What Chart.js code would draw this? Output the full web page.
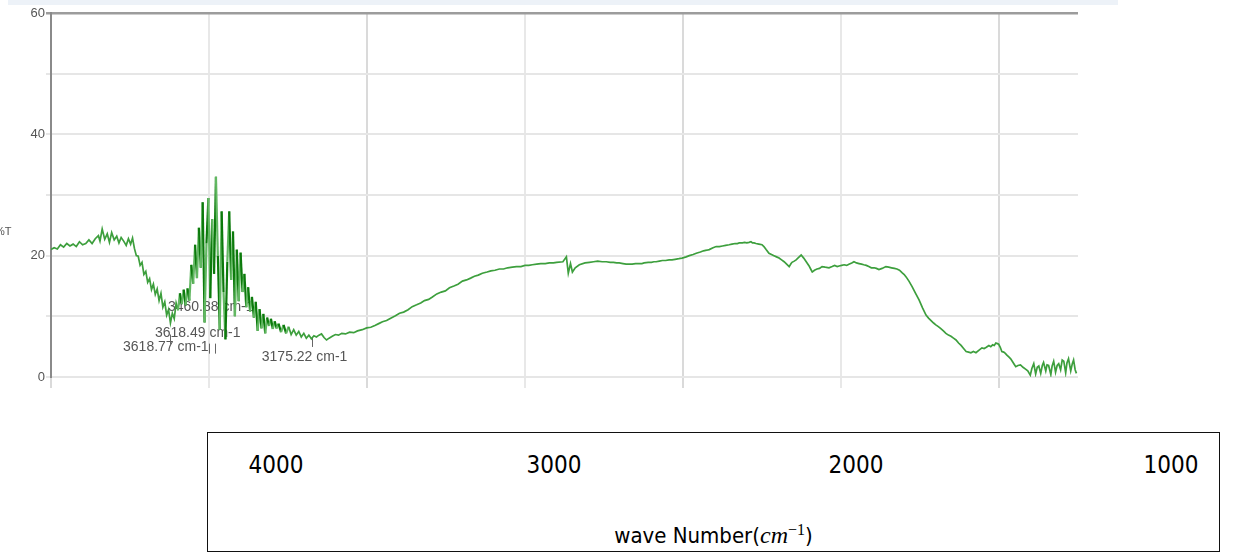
<!DOCTYPE html>
<html>
<head>
<meta charset="utf-8">
<script src="https://cdn.jsdelivr.net/npm/chart.js@4/dist/chart.umd.min.js"></script>
<style>
  html, body { margin: 0; padding: 0; background: #fff; }
  #wrap { position: relative; width: 1249px; height: 553px; overflow: hidden; }
  #topband { position: absolute; left: 8px; top: 0; width: 1110px; height: 5px; background: #edf2f8; }
  #spec { position: absolute; left: 0; top: 0; }
  #ylab { position: absolute; left: -5px; top: 225px; font: 11px 'Liberation Sans', Arial, sans-serif; color: #555; }
  #xbox { position: absolute; left: 207px; top: 432px; width: 1011px; height: 118px; border: 1.5px solid #111; }
  .xt { position: absolute; top: 18px; transform: translateX(-50%); font-family: 'Liberation Sans Narrow', 'DejaVu Sans Condensed', sans-serif; font-size: 24px; color: #000; }
  #xtitle { position: absolute; left: 0; right: 0; top: 88px; text-align: center; font-family: 'Liberation Sans Narrow', 'DejaVu Sans Condensed', sans-serif; font-size: 22px; color: #000; }
  #xtitle i { font-family: 'Liberation Serif', 'DejaVu Serif', serif; font-size: 24px; }
  #xtitle sup { font-size: 16px; font-family: 'Liberation Serif', serif; }
</style>
</head>
<body>
<div id="wrap">
  <div id="topband"></div>
  <canvas id="spec" width="1249" height="400"></canvas>
  <div id="ylab">%T</div>
  <div id="xbox"></div>
</div>
<script>
'use strict';

// IR spectrum, [wavenumber cm-1, %T]
const ohShoulder = [
  [4000, 21.0], [3990, 21.3], [3980, 21.1], [3970, 21.8], [3960, 21.4], [3950, 22.0], [3940, 21.6],
  [3930, 21.9], [3920, 21.5], [3910, 22.3], [3900, 21.8], [3890, 22.0], [3880, 22.6], [3870, 22.0],
  [3860, 22.8], [3850, 23.3], [3845, 22.4], [3838, 24.4], [3830, 22.7], [3822, 23.6], [3815, 22.2],
  [3808, 23.8], [3800, 22.6], [3792, 23.2], [3785, 22.1], [3778, 23.0], [3770, 22.4], [3762, 21.7],
  [3755, 22.8], [3748, 21.9], [3742, 22.9], [3736, 21.2], [3730, 20.0], [3724, 19.9], [3718, 18.4],
  [3712, 18.9], [3706, 16.9], [3700, 17.4], [3694, 15.6], [3688, 16.2], [3682, 14.4], [3676, 15.3],
  [3670, 13.6], [3664, 14.5], [3658, 12.6], [3652, 13.8], [3646, 11.5], [3640, 12.4], [3634, 10.2],
  [3628, 11.1], [3622, 8.9], [3616, 10.5], [3610, 9.6], [3604, 12.2], [3598, 11.0]
];

const ohBand = [
  [3592, 13.8], [3586, 12.0], [3580, 14.4], [3574, 11.8], [3568, 14.6], [3562, 12.6], [3556, 18.5],
  [3550, 15.4], [3544, 21.8], [3538, 16.3], [3532, 24.6], [3526, 18.0], [3520, 28.8], [3514, 9.0],
  [3508, 22.0], [3502, 29.5], [3496, 13.0], [3490, 26.0], [3484, 17.0], [3478, 33.0], [3472, 20.0],
  [3466, 7.8], [3460, 27.3], [3454, 14.0], [3448, 6.2], [3442, 19.0], [3436, 27.3], [3430, 16.0],
  [3424, 24.0], [3418, 10.0], [3412, 21.0], [3406, 12.5], [3400, 20.5], [3394, 14.0], [3388, 17.0],
  [3382, 11.5], [3376, 14.8], [3370, 10.8], [3364, 13.2], [3358, 9.8], [3352, 12.4], [3346, 7.6],
  [3340, 11.2], [3334, 8.0], [3328, 10.4], [3322, 7.2], [3316, 9.8], [3310, 8.4], [3304, 9.6],
  [3298, 7.9], [3292, 9.2], [3286, 8.0], [3280, 8.8]
];

const chRegion = [
  [3272, 7.4], [3264, 8.6], [3256, 7.2], [3248, 8.3], [3240, 7.0], [3232, 7.8], [3224, 6.9],
  [3216, 7.5], [3208, 6.6], [3200, 7.2], [3192, 6.4], [3184, 6.9], [3176, 6.3], [3168, 6.8],
  [3160, 6.6], [3152, 6.9], [3144, 7.1], [3136, 6.5], [3128, 6.1], [3120, 6.4], [3110, 6.7],
  [3100, 7.0], [3090, 6.9], [3080, 7.2], [3068, 7.1], [3055, 7.4], [3042, 7.3], [3030, 7.6],
  [3015, 7.8], [3001, 8.1], [2988, 8.2], [2975, 8.5], [2963, 8.8], [2951, 9.1], [2938, 9.3],
  [2925, 9.7], [2910, 10.1], [2897, 10.5], [2884, 10.7], [2870, 11.1], [2857, 11.6], [2843, 11.9],
  [2830, 12.2], [2818, 12.6], [2805, 12.8], [2793, 13.2], [2779, 13.7], [2765, 14.0], [2752, 14.2],
  [2739, 14.7], [2725, 15.0], [2712, 15.3], [2698, 15.8], [2685, 16.0], [2672, 16.3], [2660, 16.6],
  [2648, 16.8], [2635, 17.1], [2620, 17.3], [2608, 17.5], [2595, 17.6], [2581, 17.8], [2568, 17.8],
  [2555, 18.0], [2540, 18.1], [2527, 18.2], [2513, 18.2], [2500, 18.4], [2488, 18.4], [2477, 18.5],
  [2463, 18.6], [2450, 18.7], [2436, 18.7], [2423, 18.8], [2410, 18.8], [2400, 18.9]
];

const midRegion = [
  [2380, 19.0], [2369, 19.8], [2363, 17.1], [2356, 18.7], [2350, 17.3], [2341, 18.0], [2328, 18.5],
  [2310, 18.8], [2296, 18.9], [2283, 19.0], [2270, 19.1], [2256, 19.0], [2243, 19.0], [2230, 18.9],
  [2220, 18.9], [2210, 18.8], [2202, 18.8], [2190, 18.7], [2180, 18.6], [2170, 18.6], [2161, 18.6],
  [2150, 18.7], [2140, 18.7], [2130, 18.7], [2123, 18.8], [2110, 18.9], [2100, 18.9], [2092, 19.0],
  [2085, 19.0], [2075, 19.1], [2065, 19.2], [2055, 19.2], [2044, 19.3], [2035, 19.3], [2025, 19.4],
  [2013, 19.5], [2003, 19.6], [1990, 19.8], [1980, 20.0], [1968, 20.2], [1958, 20.4], [1945, 20.6],
  [1935, 20.8], [1925, 20.9], [1917, 21.0], [1905, 21.3], [1895, 21.5], [1885, 21.5], [1875, 21.6],
  [1865, 21.7], [1854, 21.8], [1845, 21.9], [1835, 22.0], [1828, 22.0], [1822, 22.1], [1812, 22.1],
  [1805, 22.2], [1798, 22.1], [1791, 22.2], [1785, 22.3], [1780, 22.1], [1775, 22.1], [1769, 22.0],
  [1760, 21.9], [1750, 21.8], [1744, 21.5], [1737, 21.0], [1728, 20.4], [1720, 20.2], [1712, 20.0],
  [1704, 19.8], [1696, 19.6], [1688, 19.3], [1680, 19.0], [1672, 18.6], [1664, 18.2], [1658, 18.7],
  [1655, 18.9], [1648, 19.1], [1642, 19.3], [1634, 19.7], [1626, 20.1], [1618, 19.6], [1610, 19.0],
  [1601, 18.3], [1596, 17.8], [1591, 17.3], [1584, 17.6], [1576, 17.8], [1568, 17.9], [1560, 18.2],
  [1550, 18.1], [1538, 18.0], [1528, 18.2], [1520, 18.4], [1512, 18.2], [1506, 18.3]
];

const fingerprint = [
  [1498, 18.4], [1490, 18.5], [1482, 18.4], [1475, 18.6], [1466, 18.8], [1459, 19.0], [1451, 18.8],
  [1443, 18.7], [1435, 18.6], [1428, 18.5], [1420, 18.4], [1412, 18.2], [1404, 18.0], [1395, 18.0],
  [1388, 17.9], [1380, 17.7], [1370, 17.9], [1358, 18.2], [1349, 18.1], [1340, 18.0], [1331, 17.9],
  [1323, 17.8], [1315, 17.6], [1307, 17.2], [1300, 16.9], [1294, 16.5], [1285, 15.8], [1275, 14.9],
  [1264, 13.8], [1253, 12.7], [1242, 11.4], [1231, 10.2], [1223, 9.7], [1215, 9.3], [1207, 8.9],
  [1200, 8.6], [1192, 8.3], [1185, 8.0], [1176, 7.6], [1168, 7.2], [1160, 6.9], [1152, 6.7],
  [1144, 6.4], [1136, 6.1], [1128, 5.6], [1120, 5.2], [1112, 4.7], [1104, 4.2], [1096, 4.1],
  [1089, 4.0], [1081, 4.2], [1073, 4.0], [1064, 4.4], [1054, 4.8], [1047, 4.7], [1040, 4.9],
  [1032, 5.2], [1026, 5.0], [1020, 5.3], [1015, 5.2], [1010, 5.6], [1005, 5.5], [1001, 5.4],
  [996, 4.9], [991, 4.2], [985, 4.1], [980, 3.9], [975, 3.6], [969, 3.3], [963, 3.0], [958, 2.6],
  [952, 2.1], [947, 1.7], [940, 1.9], [932, 2.0], [924, 1.6], [916, 1.3], [909, 1.0], [901, 0.3],
  [896, 1.4], [890, 2.2], [884, 0.5], [879, 1.6], [874, 1.8], [868, 0.6], [863, 1.9], [859, 2.4],
  [852, 1.0], [848, 2.0], [843, 1.9], [836, 0.4], [832, 1.8], [827, 2.6], [821, 0.8], [816, 1.9],
  [811, 2.2], [805, 1.2], [800, 2.8], [795, 2.6], [789, 0.7], [785, 2.3], [780, 3.0], [773, 1.0],
  [768, 2.2], [764, 2.8], [759, 1.2], [755, 0.6]
];

const xGridValues = [4000, 3500, 3000, 2500, 2000, 1500, 1000];
const yTickLabels = [0, 20, 40, 60];
const boxTickLabels = ['4000', '3000', '2000', '1000'];
// peak picks: text, anchored at [wavenumber, %T] of the text's left middle
const peakLabels = [
  { text: '3460.88 cm-1', wn: 3630, t: 11.5 },
  { text: '3618.49 cm-1', wn: 3671, t: 7.2 },
  { text: '3618.77 cm-1', wn: 3772, t: 4.9 },
  { text: '3175.22 cm-1', wn: 3333, t: 3.3 }
];
const peakMarks = [
  { wn: 3624, t: 7.0 }, { wn: 3500, t: 5.5 }, { wn: 3480, t: 5.5 }, { wn: 3175, t: 6.6 }
];

const points = [].concat(ohShoulder, ohBand, chRegion, midRegion, fingerprint).map(p => ({ x: p[0], y: p[1] }));

// x labels in the box under the plot
const box = document.getElementById('xbox');
const boxPos = [68, 346, 648, 963];
boxTickLabels.forEach((s, i) => {
  const d = document.createElement('div');
  d.className = 'xt';
  d.style.left = boxPos[i] + 'px';
  d.textContent = s;
  box.appendChild(d);
});
const ttl = document.createElement('div');
ttl.id = 'xtitle';
ttl.innerHTML = 'wave Number(<i>cm</i><sup>\u22121</sup>)';
box.appendChild(ttl);

const peakPlugin = {
  id: 'peaks',
  beforeDatasetsDraw(chart) {
    const { ctx, scales: { x, y } } = chart;
    ctx.save();
    ctx.font = "14px 'Liberation Sans', Arial, sans-serif";
    ctx.fillStyle = '#555';
    ctx.textBaseline = 'middle';
    peakLabels.forEach(p => ctx.fillText(p.text, x.getPixelForValue(p.wn), y.getPixelForValue(p.t)));
    ctx.strokeStyle = '#666';
    ctx.lineWidth = 1;
    peakMarks.forEach(m => {
      const px = Math.round(x.getPixelForValue(m.wn)) + 0.5;
      const py = y.getPixelForValue(m.t);
      ctx.beginPath();
      ctx.moveTo(px, py);
      ctx.lineTo(px, py + 10);
      ctx.stroke();
    });
    ctx.restore();
  }
};

const inBand = c => c.p0.parsed.x < 3600 && c.p0.parsed.x > 3250;

new Chart(document.getElementById('spec'), {
  type: 'line',
  data: {
    datasets: [{
      data: points,
      borderColor: '#3d9f3d',
      borderWidth: 1.7,
      pointRadius: 0,
      tension: 0,
      segment: {
        borderColor: c => inBand(c) ? (c.p0DataIndex % 2 ? '#0c7a0c' : '#62b862') : undefined,
        borderWidth: c => inBand(c) ? 2.2 : undefined
      }
    }]
  },
  options: {
    responsive: false,
    animation: false,
    layout: { padding: { top: 13, right: 171, left: 0, bottom: 0 } },
    plugins: { legend: { display: false }, tooltip: { enabled: false } },
    scales: {
      x: {
        type: 'linear',
        reverse: true,
        bounds: 'data',
        min: 750,
        max: 4000,
        afterFit: s => { s.height = 23; },
        afterBuildTicks: s => { s.ticks = xGridValues.map(v => ({ value: v })); },
        ticks: { display: false },
        border: { display: false },
        grid: {
          tickLength: 11,
          lineWidth: 2,
          color: c => (c.tick && c.tick.value % 1000 === 0) ? '#dadada' : '#e8e8e8'
        }
      },
      y: {
        min: 0,
        max: 60,
        afterFit: s => { s.width = 51; },
        ticks: {
          stepSize: 10,
          padding: 1,
          color: '#555',
          font: { family: "'Liberation Sans', Arial, sans-serif", size: 13 },
          callback: v => yTickLabels.includes(v) ? v : ''
        },
        border: { color: '#8a8a8a', width: 2 },
        grid: {
          tickLength: 5,
          lineWidth: c => (c.tick && c.tick.value === 60) ? 2.5 : 2,
          color: c => (c.tick && c.tick.value === 60) ? '#9c9c9c' : '#e6e6e6'
        }
      }
    }
  },
  plugins: [peakPlugin]
});
</script>
</body>
</html>
